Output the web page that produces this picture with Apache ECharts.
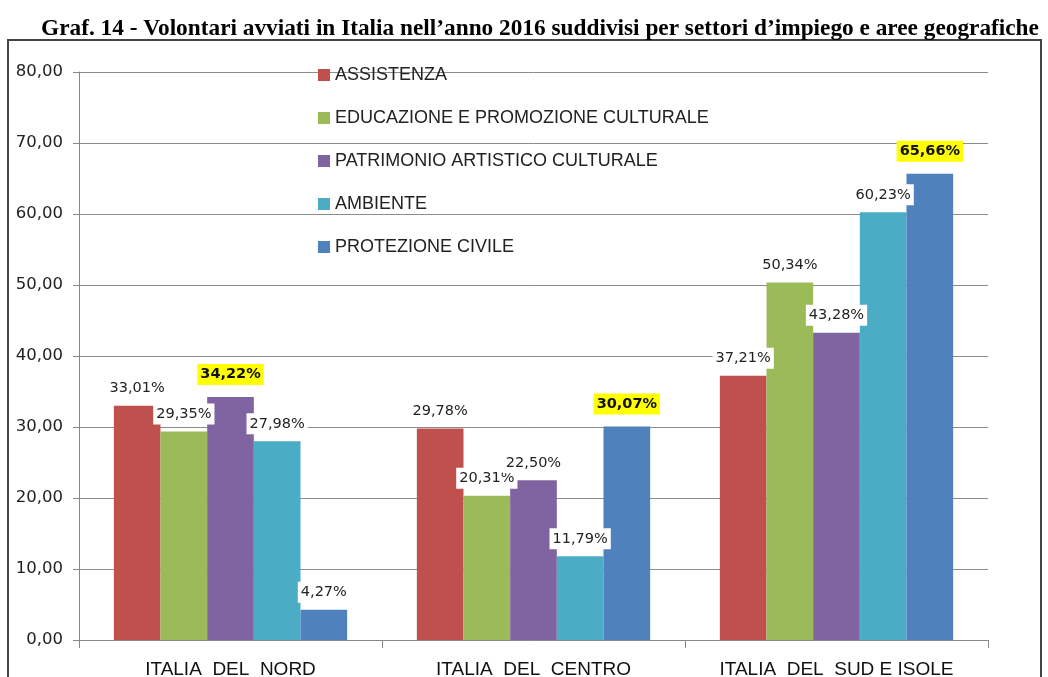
<!DOCTYPE html>
<html>
<head>
<meta charset="utf-8">
<script src="https://cdn.jsdelivr.net/npm/echarts@6/dist/echarts.min.js"></script>
<style>
  html, body { margin: 0; padding: 0; background: #fff; }
  #chart { width: 1048px; height: 677px; }
</style>
</head>
<body>
<div id="chart"></div>
<script>
var categories = ['ITALIA  DEL  NORD', 'ITALIA  DEL  CENTRO', 'ITALIA  DEL  SUD E ISOLE'];
var seriesNames = ['ASSISTENZA', 'EDUCAZIONE E PROMOZIONE CULTURALE', 'PATRIMONIO ARTISTICO CULTURALE', 'AMBIENTE', 'PROTEZIONE CIVILE'];
var assistenza = [33.01, 29.78, 37.21];
var educazione = [29.35, 20.31, 50.34];
var patrimonio = [34.22, 22.50, 43.28];
var ambiente = [27.98, 11.79, 60.23];
var protezione = [4.27, 30.07, 65.66];
var colors = ['#C0504D', '#9BBB59', '#8064A2', '#4BACC6', '#4F81BD'];
// which bars get the yellow box: [series index, category index]
var highlighted = [[2, 0], [4, 1], [4, 2]];
var yTicks = { min: 0, max: 80, interval: 10 };

function fmt(v) {
    return v.toFixed(2).replace('.', ',');
}

var dom = document.getElementById('chart');
var myChart = echarts.init(dom);

var allValues = [assistenza, educazione, patrimonio, ambiente, protezione];

var series = allValues.map(function (vals, si) {
    return {
        name: seriesNames[si],
        type: 'bar',
        barGap: '0%',
        barCategoryGap: '23%',
        itemStyle: { color: colors[si] },
        label: {
            show: true,
            position: 'top',
            distance: 7,
            formatter: function (p) { return fmt(p.value) + '%'; },
            fontFamily: 'DejaVu Sans',
            fontSize: 14.5,
            color: '#222',
            backgroundColor: '#fff',
            padding: [3, 3]
        },
        data: vals.map(function (v, ci) {
            var hl = highlighted.some(function (h) { return h[0] === si && h[1] === ci; });
            if (!hl) return v;
            return {
                value: v,
                label: {
                    backgroundColor: '#FFFF00',
                    fontWeight: 'bold',
                    color: '#111',
                    distance: 12
                }
            };
        })
    };
});

option = {
    animation: false,
    title: {
        text: 'Graf. 14 - Volontari avviati in Italia nell\u2019anno 2016 suddivisi per settori d\u2019impiego e aree geografiche',
        left: 535,
        textAlign: 'center',
        top: 12,
        textStyle: {
            fontFamily: 'Liberation Serif',
            fontWeight: 'bold',
            fontSize: 23.3,
            color: '#000'
        }
    },
    graphic: [{
        type: 'rect',
        shape: { x: 8, y: 40, width: 1033, height: 660 },
        style: { fill: 'none', stroke: '#444', lineWidth: 2 },
        silent: true
    }],
    legend: {
        orient: 'vertical',
        left: 313,
        top: 61,
        icon: 'rect',
        itemWidth: 12,
        itemHeight: 12,
        itemGap: 25,
        textStyle: {
            fontFamily: 'Liberation Sans',
            fontSize: 18,
            color: '#222'
        },
        data: seriesNames
    },
    grid: {
        left: 79,
        right: 60,
        top: 72,
        bottom: 37,
        outerBoundsMode: 'none'
    },
    xAxis: {
        type: 'category',
        data: categories,
        axisLine: { lineStyle: { color: '#888' } },
        axisTick: { show: true, length: 8, lineStyle: { color: '#888' } },
        axisLabel: {
            interval: 0,
            margin: 20,
            fontFamily: 'Liberation Sans',
            fontSize: 19,
            color: '#111'
        }
    },
    yAxis: {
        type: 'value',
        min: yTicks.min,
        max: yTicks.max,
        interval: yTicks.interval,
        axisLine: { show: true, lineStyle: { color: '#888' } },
        axisTick: { show: true, length: 6, lineStyle: { color: '#888' } },
        splitLine: { lineStyle: { color: '#8c8c8c' } },
        axisLabel: {
            margin: 16,
            formatter: function (v) { return fmt(v); },
            fontFamily: 'DejaVu Sans',
            fontSize: 16.5,
            color: '#222'
        }
    },
    series: series
};

myChart.setOption(option);
</script>
</body>
</html>
